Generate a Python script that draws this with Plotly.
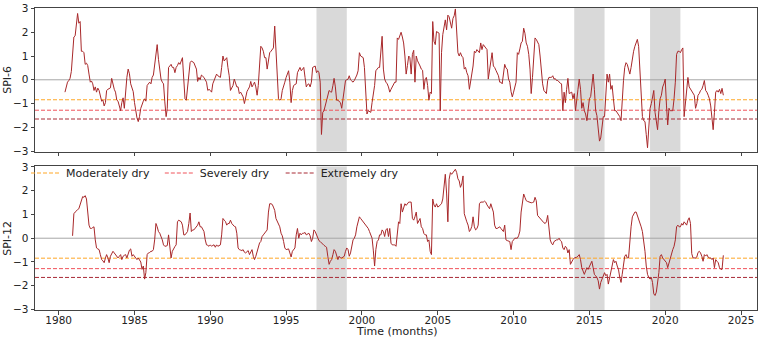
import pandas as pd
import plotly.graph_objects as go

# ---------------- data ----------------
spi6_start = "1980-06-01"
spi6 = [
    -0.52, -0.3, -0.1, -0.03, 0.06, 0.35, 1.35,
    1.8, 1.85, 2.35, 2.79, 2.38, 2.45, 1.2, 1.2, 1.14, 0.65, 0.7, 0.6,
    0.24, -0.1, -0.05, -0.17, -0.45, -0.3, -0.52, -0.35, -0.45, -0.76, -0.9, -0.85,
    -1.1, -0.96, -0.45, -0.4, -0.36, -0.34, 0.06, -0.2, -0.4, -0.52, -0.85, -0.9,
    -1.1, -1.3, -0.96, -0.76, -1.2, -0.4, 0.1, 0.45, 0.25, -0.17, -0.3, -0.5,
    -0.96, -1.37, -1.6, -1.76, -1.55, -1.2, -1.0, -0.9, -0.8, -0.9, -0.24, -0.15,
    -0.1, -0.17, 0.1, 0.2, 0.7, 1.27, 1.48, 0.86, 0.3, 0.03, -0.1, -0.17,
    -0.93, -1.55, -1.2, 0.52, 0.58, 0.65, 0.52, 0.52, 0.3, 0.52, 0.6, 0.72,
    0.65, 0.86, 0.93, 0.03, -0.8, -0.86, -0.4, 0.3, 0.72, 0.79, 0.75, 0.72,
    0.58, 0.45, -0.07, 0.1, 0.0, 0.2, 0.15, 0.1, 0.0, -0.1, -0.45, -0.4,
    -0.45, -0.52, -0.17, 0.0, 0.1, 0.24, 0.17, 0.15, 0.1, 0.52, 1.0, 0.79,
    0.85, 0.93, 0.52, 0.17, -0.45, -0.3, -0.24, 0.03, -0.1, -0.3, -0.3, -0.58,
    -0.52, -0.6, -0.72, -1.0, -0.65, -0.5, -0.4, -0.3, -0.07, -0.3, -0.2, -0.1,
    -0.3, -0.65, -0.24, 0.6, 1.41, 1.34, 1.2, 0.93, 0.93, 0.45, 0.8, 1.14,
    1.2, 1.27, 1.34, 2.26, 1.0, 0.3, -0.8, -0.86, -0.8, -0.45, -0.3, -0.1,
    0.1, 0.3, 0.38, -0.1, -0.96, -0.45, -0.24, -0.2, -0.17, 0.3, 0.45, 0.52,
    0.38, 0.45, 0.52, 0.1, -0.3, -0.2, -0.17, -0.3, -0.1, 0.52, 0.55, 0.58,
    0.3, 0.38, 0.3, -0.1, -2.3, -1.37, -1.3, -1.1, -0.96, -0.65, -0.45, -0.5,
    -0.52, -0.24, 0.06, -0.3, -0.86, -0.86, -0.9, -0.96, -1.2, -0.86, -0.45, -0.03,
    0.0, 0.03, 0.17, 0.0, -0.05, -0.1, -0.03, 0.06, 0.2, 0.38, 1.14, 1.0,
    0.95, 0.93, 0.52, -0.4, -1.44, -1.3, -1.35, -1.37, -0.96, -0.65, -0.24, 0.38,
    0.45, 0.52, 0.52, 1.14, 1.83, 0.45, 0.03, -0.1, -0.17, -0.3, -0.52, -0.4,
    -0.3, -0.17, -0.1, -0.1, 1.76, 1.7, 1.83, 2.0, 1.8, 1.55, 1.0, 0.24,
    0.6, 1.0, 0.93, 0.24, 1.07, 1.24, -0.1, 1.0, 0.8, 0.65, 0.58, 0.45,
    0.4, -0.4, 0.0, 0.1, -0.24, -0.86, -0.52, -0.58, 2.45, 1.62, 1.48, 2.03,
    2.0, 1.96, -1.3, 1.14, 1.9, 2.3, 2.52, 2.1, 2.72, 2.65, 2.4, 2.17,
    2.58, 2.7, 2.98, 2.0, 1.14, 1.0, 1.14, 1.0, 0.93, 0.45, 0.52, 0.3,
    0.17, -0.4, -0.1, 0.3, 0.58, 1.2, 1.14, 1.27, 1.2, 1.14, 1.55, 1.27,
    1.48, 1.41, 1.35, 1.27, 0.03, 0.45, 0.8, 1.14, 0.58, 0.52, 0.4, 0.3,
    0.17, -0.1, -0.1, -0.17, 0.17, 0.65, 0.5, 0.45, 0.03, -0.1, -0.5, -0.72,
    -0.52, -0.3, -0.1, 1.14, 1.07, 1.3, 1.55, 1.62, 2.17, 1.96, 1.55, 1.41,
    1.07, 0.45, -0.58, 0.1, 1.07, 1.76, 1.7, 1.6, 1.48, 1.0, 0.38, -0.17,
    -0.45, -0.5, -0.58, -0.03, 0.1, 0.1, 0.1, 0.17, 0.03, 0.05, -0.03, -0.03,
    -0.1, -0.15, -0.17, -1.3, -0.52, -0.96, -0.4, 0.06, -0.58, -0.55, -0.52, -0.8,
    -0.58, -1.3, -0.96, -0.4, 0.03, -0.4, -1.2, -0.96, -1.3, -1.44, -1.72, -1.1,
    -0.8, -0.7, -0.17, 0.24, -0.4, -1.3, -1.51, -2.03, -2.58, -2.45, -1.9, -1.55,
    -1.55, -0.4, 0.24, -0.1, 0.24, -0.4, -0.24, -0.8, -1.3, -1.3, -1.4, -1.44,
    -1.55, -1.72, -0.8, -0.03, 0.52, 0.72, 0.65, 0.45, 0.24, 0.52, 0.93, 1.2,
    1.41, 1.55, 1.7, 1.41, 0.45, -0.4, -1.55, -1.72, -1.76, -2.3, -2.86, -2.03,
    -1.2, -1.0, -0.8, -0.45, -1.37, -1.76, -2.1, -1.3, -0.8, -0.65, -0.3, -0.17,
    0.03, -1.1, -1.9, -1.2, -1.3, -1.3, -1.3, -0.8, -0.1, 1.07, 1.2, 1.2,
    1.14, 1.27, 1.34, -1.55, -0.96, -0.4, 0.1, -0.3, -0.4, -0.45, -0.55, -0.65,
    -1.2, -1.0, -0.65, -0.58, -0.45, -0.4, -0.24, -0.03, -0.45, -0.52, -0.65, -0.8,
    -1.1, -1.55, -2.1, -1.37, -0.52, -0.45, -0.52, -0.4, -0.58, -0.36, -0.65,
]

spi12_start = "1980-12-01"
spi12 = [
    0.1,
    1.03, 1.1, 1.17, 1.2, 1.24, 1.45, 1.6, 1.75, 1.72, 1.79, 1.65, 1.17,
    0.55, 0.41, 0.41, 0.45, 0.48, -0.07, -0.41, -0.45, -0.48, -0.69, -0.9, -0.95,
    -1.03, -0.83, -0.69, -0.83, -1.03, -0.76, -0.62, -0.55, -0.62, -0.69, -0.76, -0.83,
    -0.76, -0.69, -0.9, -0.76, -0.72, -0.69, -0.83, -0.62, -0.5, -0.45, -0.76, -0.69,
    -0.75, -0.83, -0.9, -0.83, -0.9, -1.0, -1.31, -1.17, -1.72, -1.45, -0.69, -0.62,
    -0.6, -0.55, -0.55, -0.48, -0.07, 0.62, 0.48, 0.28, 0.21, 0.1, -0.07, -0.28,
    -0.34, -0.33, -0.31, 0.14, -0.34, -0.83, -0.55, -0.41, -0.35, -0.28, 0.69, 0.76,
    0.72, 0.69, 0.55, 0.14, 0.14, 0.2, 0.28, 0.62, 1.06, 0.28, 0.35, 0.35,
    0.41, 0.48, 0.55, 0.69, 0.48, 0.48, 0.35, 0.28, -0.07, -0.28, -0.3, -0.34,
    -0.28, -0.34, -0.3, -0.28, -0.38, -0.28, -0.34, -0.3, -0.28, 0.14, 0.83, 0.76,
    0.7, 0.55, 0.62, 0.62, 0.76, 0.62, 0.55, 0.5, 0.48, 0.21, -0.41, -0.48,
    -0.5, -0.52, -0.48, -0.59, -0.62, -0.55, -0.52, -0.69, -0.6, -0.48, -0.76, -0.9,
    -0.76, -0.55, -0.34, -0.2, -0.14, 0.07, 0.14, 0.21, 0.28, 0.35, 1.1, 1.45,
    1.45, 1.42, 1.31, 1.17, 0.83, 0.7, 0.62, 0.48, 0.21, 0.1, -0.14, -0.41,
    -0.48, -0.45, -0.45, -0.62, -0.79, -0.55, -0.5, -0.41, 0.14, 0.41, 0.0, 0.21,
    0.14, 0.21, 0.21, 0.24, 0.14, 0.18, 0.21, 0.1, -0.14, 0.0, 0.35, 0.28,
    0.14, 0.0, -0.1, -0.14, -0.21, -0.28, -0.3, -0.34, -0.38, -0.76, -1.1, -0.97,
    -0.9, -0.69, -0.48, -0.55, -0.76, -0.9, -0.76, -0.83, -0.83, -0.8, -0.76, -0.55,
    -0.41, -0.48, -0.76, -0.62, -0.28, -0.07, 0.0, 0.14, 0.48, 0.76, 0.9, 0.83,
    0.76, 0.69, 0.62, 0.55, 0.48, 0.41, 0.28, 0.14, 0.0, -0.5, -1.17, -0.48,
    -0.14, -0.07, 0.14, 0.14, 0.35, 0.28, 0.07, 0.35, 0.41, 0.07, 0.41, -0.21,
    -0.28, -0.28, -0.28, -0.34, 0.35, 0.69, 0.62, 1.45, 1.1, 1.3, 1.45, 1.38,
    1.45, 1.52, 1.52, 1.52, 0.83, 0.76, 0.9, 1.1, 0.62, 0.7, 0.83, 0.48,
    0.41, 0.2, 0.14, 0.14, -0.14, -0.07, -0.55, -0.69, 1.65, 1.4, 1.31, 1.45,
    1.31, 1.35, 1.38, 1.45, 1.65, 2.3, 2.69, 1.9, 0.69, 2.48, 2.76, 2.69,
    2.75, 2.83, 2.9, 2.76, 2.5, 2.41, 2.14, 2.28, 2.62, 1.03, 0.8, 0.69,
    0.55, 0.28, 0.35, 0.5, 0.9, 0.48, 0.35, 0.4, 0.55, 1.45, 1.52, 1.52,
    1.52, 1.56, 1.52, 1.4, 1.31, 1.24, 1.45, 1.3, 1.1, 0.55, 0.41, 0.41,
    0.45, 0.48, 0.41, 0.35, 0.28, 0.55, -0.07, -0.1, -0.14, -0.14, -0.48, -0.14,
    -0.07, 0.0, 0.0, 0.0, 0.1, 0.3, 1.1, 1.45, 1.86, 1.72, 1.58, 1.55,
    1.52, 1.52, 1.49, 1.5, 1.52, 1.72, 1.58, 0.96, 0.9, 0.8, 0.76, 0.69,
    0.65, 0.62, 0.69, 0.96, 0.48, -0.07, -0.21, -0.28, -0.14, -0.1, -0.07, -0.07,
    0.0, -0.1, -0.14, -0.41, -0.48, -0.34, -0.4, -0.62, -0.48, -1.1, -0.97, -0.9,
    -0.83, -0.83, -0.8, -0.76, -0.69, -0.9, -1.24, -1.38, -1.52, -1.38, -1.24, -1.31,
    -1.17, -1.1, -0.97, -1.24, -1.52, -1.58, -1.65, -1.79, -2.14, -1.86, -1.72, -1.65,
    -1.45, -1.58, -1.52, -1.93, -1.65, -1.45, -1.24, -0.9, -1.03, -0.97, -1.17, -1.31,
    -1.65, -1.86, -1.52, -1.03, -0.76, -0.69, -0.83, -0.83, -0.07, 0.48, 0.9, 1.03,
    1.1, 1.1, 0.96, 0.83, 0.69, 0.48, 0.28, -0.07, -0.55, -1.17, -1.52, -1.65,
    -1.72, -1.65, -1.86, -2.34, -2.41, -2.27, -1.86, -1.45, -0.76, -0.69, -0.83, -0.9,
    -0.95, -1.03, -1.24, -1.03, -0.9, -0.69, -0.48, -0.34, -0.07, 0.48, 0.55, 0.48,
    0.48, 0.62, 0.55, 0.69, 0.6, 0.55, 0.76, 0.86, 0.62, -0.65, -0.83, -0.83,
    -0.83, -0.79, -0.6, -0.55, -0.62, -0.76, -0.97, -0.69, -0.75, -0.69, -0.8, -0.83,
    -0.83, -0.9, -0.83, -1.24, -0.9, -0.97, -1.03, -1.24, -1.31, -1.31, -0.72,
]

threshold_names = ["Moderately dry", "Severely dry", "Extremely dry"]
threshold_values = [-0.84, -1.28, -1.65]
drought_starts = ["1997-01-01", "2014-01-01", "2019-01-01"]
drought_ends = ["1999-01-01", "2016-01-01", "2021-01-01"]
panel_titles = ["SPI-6", "SPI-12"]
x_title = "Time (months)"
y_ticks = [-3, -2, -1, 0, 1, 2, 3]

# ---------------- styling ----------------
FONT = "DejaVu Sans"
SERIES_COLOR = "#a8282a"
THRESH_COLORS = ["#ffa726", "#f0525a", "#a82a35"]
BAND_COLOR = "#d9d9d9"
ZERO_COLOR = "#a6a6a6"
AXIS_COLOR = "#444444"
W, H = 760, 338
L, R, T, B = 35, 2, 5, 28
PH = H - T - B


def py(px):
    return (H - B - px) / PH


dates6 = pd.date_range(spi6_start, periods=len(spi6), freq="MS")
dates12 = pd.date_range(spi12_start, periods=len(spi12), freq="MS")

fig = go.Figure()
fig.add_trace(go.Scatter(x=dates6, y=spi6, xaxis="x2", yaxis="y2", mode="lines",
                         line=dict(color=SERIES_COLOR, width=1), showlegend=False,
                         name="SPI-6"))
fig.add_trace(go.Scatter(x=dates12, y=spi12, xaxis="x", yaxis="y", mode="lines",
                         line=dict(color=SERIES_COLOR, width=1), showlegend=False,
                         name="SPI-12"))

legend_ids = ["legend", "legend2", "legend3"]
for name, col, lid in zip(threshold_names, THRESH_COLORS, legend_ids):
    fig.add_trace(go.Scatter(x=[None], y=[None], mode="lines", name=name,
                             line=dict(color=col, width=1, dash="4px,2px"),
                             legend=lid, showlegend=True))

shapes = []
for xr, yr in [("x", "y"), ("x2", "y2")]:
    for s, e in zip(drought_starts, drought_ends):
        shapes.append(dict(type="rect", xref=xr, yref=f"{yr} domain", x0=s, x1=e,
                           y0=0, y1=1, fillcolor=BAND_COLOR, line_width=0, layer="below"))
    shapes.append(dict(type="line", xref=f"{xr} domain", yref=yr, x0=0, x1=1, y0=0, y1=0,
                       line=dict(color=ZERO_COLOR, width=1), layer="below"))
    for v, col in zip(threshold_values, THRESH_COLORS):
        shapes.append(dict(type="line", xref=f"{xr} domain", yref=yr, x0=0, x1=1, y0=v, y1=v,
                           line=dict(color=col, width=1, dash="4px,2px"), layer="below"))

x_range = ["1978-06-10", "2026-01-20"]
axis_common = dict(showline=True, mirror=True, linecolor=AXIS_COLOR, linewidth=1,
                   ticks="outside", ticklen=3.5, tickcolor=AXIS_COLOR, showgrid=False,
                   zeroline=False, tickfont=dict(family=FONT, size=10.5, color="#222222"))

fig.update_layout(
    width=W, height=H, autosize=False,
    margin=dict(l=L, r=R, t=T, b=B),
    paper_bgcolor="white", plot_bgcolor="white",
    font=dict(family=FONT, size=11, color="#222222"),
    shapes=shapes,
    xaxis=dict(domain=[0, 1], anchor="y", type="date", range=x_range,
               dtick="M60", tick0="1980-01-01", tickformat="%Y", ticklabelstandoff=-3,
               **axis_common),
    xaxis2=dict(domain=[0, 1], anchor="y2", type="date", range=x_range, matches="x",
                dtick="M60", tick0="1980-01-01", showticklabels=False, **axis_common),
    yaxis=dict(domain=[0, py(165)], anchor="x", range=[-3.02, 3.02], tickvals=y_ticks,
               **axis_common),
    yaxis2=dict(domain=[py(150), 1], anchor="x2", range=[-3.02, 3.02], tickvals=y_ticks,
                **axis_common),
    annotations=[
        dict(text=panel_titles[0], xref="paper", yref="paper", x=(8 - L) / (W - L - R),
             y=py(77.5), textangle=-90, showarrow=False, xanchor="center", yanchor="middle",
             font=dict(family=FONT, size=11)),
        dict(text=panel_titles[1], xref="paper", yref="paper", x=(8 - L) / (W - L - R),
             y=py(238), textangle=-90, showarrow=False, xanchor="center", yanchor="middle",
             font=dict(family=FONT, size=11)),
        dict(text=x_title, xref="paper", yref="paper", x=0.5, y=py(331.5),
             showarrow=False, xanchor="center", yanchor="middle",
             font=dict(family=FONT, size=11)),
    ],
)

legend_px = [26, 160, 281]
for lid, lx in zip(legend_ids, legend_px):
    fig.update_layout({lid: dict(x=(lx - L) / (W - L - R), y=py(157), xanchor="left",
                                 yanchor="top", orientation="h",
                                 bgcolor="rgba(0,0,0,0)", borderwidth=0,
                                 font=dict(family=FONT, size=11, color="#222222"))})

fig.write_html("out.html",
               config={"displayModeBar": False},
               post_script="document.body.style.margin='0px';"
                           "document.body.style.overflow='hidden';")
